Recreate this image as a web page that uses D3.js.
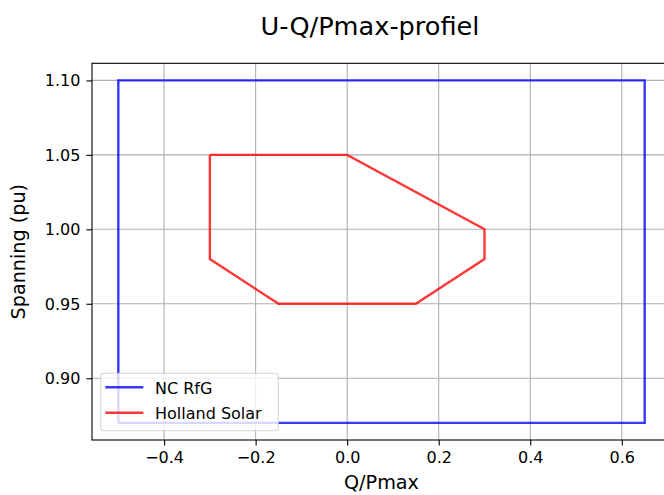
<!DOCTYPE html>
<html>
<head>
<meta charset="utf-8">
<script src="https://cdn.jsdelivr.net/npm/d3@7"></script>
<style>
  html, body { margin: 0; padding: 0; background: #fff; }
  svg { display: block; }
  text { font-family: "DejaVu Sans", sans-serif; fill: #000; }
</style>
</head>
<body>
<svg id="chart" width="664" height="495"></svg>
<script>
// Grid code envelope (NC RfG) and manufacturer profile (Holland Solar)
const ncRfgQ = [-0.5, -0.5, 0.65, 0.65, -0.5];
const ncRfgU = [0.87, 1.10, 1.10, 0.87, 0.87];

const hollandQ = [-0.3, 0.0, 0.3, 0.3, 0.15, -0.15, -0.3, -0.3];
const hollandU = [1.05, 1.05, 1.00, 0.98, 0.95, 0.95, 0.98, 1.05];

const xTicks = [-0.4, -0.2, 0.0, 0.2, 0.4, 0.6];
const yTicks = [0.90, 0.95, 1.00, 1.05, 1.10];

const seriesNames = ["NC RfG", "Holland Solar"];
const seriesColors = ["#0000ff", "#ff0000"];

const svg = d3.select("#chart");
const plot = { left: 92, right: 671, top: 63.3, bottom: 440 };

// Data range padded by 5% on each side
const xMin = d3.min([...ncRfgQ, ...hollandQ]), xMax = d3.max([...ncRfgQ, ...hollandQ]);
const yMin = d3.min([...ncRfgU, ...hollandU]), yMax = d3.max([...ncRfgU, ...hollandU]);
const xPad = (xMax - xMin) * 0.05, yPad = (yMax - yMin) * 0.05;

const x = d3.scaleLinear().domain([xMin - xPad, xMax + xPad]).range([plot.left, plot.right]);
const y = d3.scaleLinear().domain([yMin - yPad, yMax + yPad]).range([plot.bottom, plot.top]);

const fmtMinus = s => s.replace("-", "\u2212");

// Grid lines
const grid = svg.append("g").attr("stroke", "#b0b0b0").attr("stroke-width", 1.1);
grid.selectAll(".gx").data(xTicks).join("line")
  .attr("x1", d => x(d)).attr("x2", d => x(d))
  .attr("y1", plot.top).attr("y2", plot.bottom);
grid.selectAll(".gy").data(yTicks).join("line")
  .attr("y1", d => y(d)).attr("y2", d => y(d))
  .attr("x1", plot.left).attr("x2", plot.right);

// Series
const line = d3.line().x(d => x(d[0])).y(d => y(d[1]));
const series = [
  d3.zip(ncRfgQ, ncRfgU),
  d3.zip(hollandQ, hollandU)
];
svg.append("g").selectAll("path").data(series).join("path")
  .attr("d", line)
  .attr("fill", "none")
  .attr("stroke", (d, i) => seriesColors[i])
  .attr("stroke-width", 2.4)
  .attr("stroke-opacity", 0.78)
  .attr("stroke-linejoin", "miter");

// Axes
const xAxis = d3.axisBottom(x).tickValues(xTicks).tickSize(5.6).tickPadding(6)
  .tickFormat(d => fmtMinus(d3.format(".1f")(d)));
const yAxis = d3.axisLeft(y).tickValues(yTicks).tickSize(5.6).tickPadding(6)
  .tickFormat(d3.format(".2f"));

const gx = svg.append("g").attr("transform", `translate(0,${plot.bottom})`).call(xAxis);
const gy = svg.append("g").attr("transform", `translate(${plot.left},0)`).call(yAxis);
[gx, gy].forEach(g => {
  g.select(".domain").remove();
  g.selectAll(".tick line").attr("stroke", "#000").attr("stroke-width", 1.1);
  g.selectAll(".tick text").attr("font-size", 16).attr("fill", "#000")
    .style("font-family", "'DejaVu Sans', sans-serif");
});
gx.selectAll(".tick text").attr("dy", "0.72em");
gy.selectAll(".tick text").attr("dy", "0.34em");

// Spines
svg.append("rect")
  .attr("x", plot.left).attr("y", plot.top)
  .attr("width", plot.right - plot.left).attr("height", plot.bottom - plot.top)
  .attr("fill", "none").attr("stroke", "#000").attr("stroke-width", 1.1);

// Titles
svg.append("text").attr("x", 370).attr("y", 35).attr("text-anchor", "middle")
  .attr("font-size", 25.6).text("U-Q/Pmax-profiel");
svg.append("text").attr("x", (plot.left + plot.right) / 2).attr("y", 489)
  .attr("text-anchor", "middle").attr("font-size", 19.2).text("Q/Pmax");
svg.append("text")
  .attr("transform", `translate(25,${(plot.top + plot.bottom) / 2}) rotate(-90)`)
  .attr("text-anchor", "middle").attr("font-size", 19.2).text("Spanning (pu)");

// Legend
const legend = svg.append("g");
legend.append("rect")
  .attr("x", 100.7).attr("y", 373.3).attr("width", 177.6).attr("height", 57.4)
  .attr("rx", 3).attr("fill", "#fff").attr("fill-opacity", 0.8)
  .attr("stroke", "#cccccc").attr("stroke-opacity", 0.8).attr("stroke-width", 1.1);
const items = legend.selectAll("g.item").data(seriesNames).join("g")
  .attr("transform", (d, i) => `translate(0,${387.3 + i * 25.4})`);
items.append("line").attr("x1", 105.3).attr("x2", 143.3)
  .attr("stroke", (d, i) => seriesColors[i]).attr("stroke-width", 2.4).attr("stroke-opacity", 0.78);
items.append("text").attr("x", 155).attr("y", 6.3).attr("font-size", 16).text(d => d);
</script>
</body>
</html>
